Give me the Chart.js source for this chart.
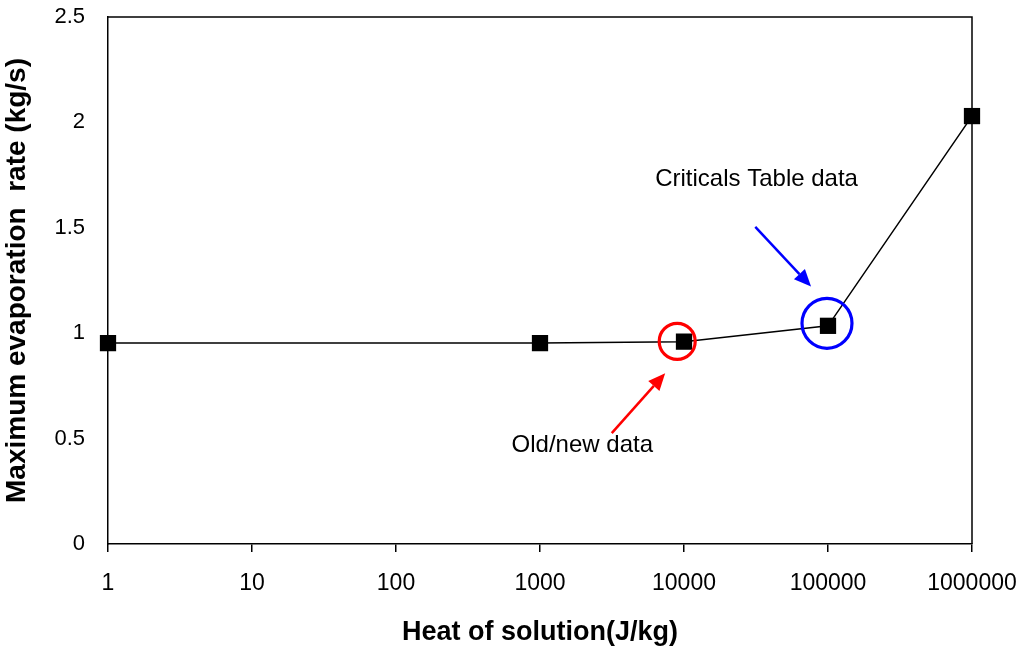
<!DOCTYPE html>
<html>
<head>
<meta charset="utf-8">
<script src="https://cdn.jsdelivr.net/npm/chart.js@4.4.1/dist/chart.umd.min.js"></script>
<style>
  body { margin: 0; background: #fff; }
  #wrap { width: 1025px; height: 650px; position: relative; }
</style>
</head>
<body>
<div id="wrap"><canvas id="chartLine"></canvas></div>
<script>
// heat of solution (J/kg) vs max evaporation rate (kg/s)
const heatValues = [1, 1000, 10000, 100000, 1000000];
const evapRates = [0.953, 0.953, 0.960, 1.035, 2.03];
const xTickValues = [1, 10, 100, 1000, 10000, 100000, 1000000];
const yTickValues = [0, 0.5, 1, 1.5, 2, 2.5];

// annotations, in data coordinates
const circleNotes = [
    { x: 8970, y: 0.961, r: 18, color: "#ff0000" },
    { x: 98400, y: 1.047, r: 25, color: "#0000ff" },
];
const arrowNotes = [
    { from: [3150, 0.526], to: [7400, 0.81], color: "#ff0000" },
    { from: [31260, 1.504], to: [76250, 1.221], color: "#0000ff" },
];
const textNotes = [
    { x: 635, y: 0.47, text: "Old/new data" },
    { x: 6310, y: 1.732, text: "Criticals Table data" },
];

const boxPlugin = {
    id: "box",
    beforeDatasetsDraw(chart) {
        const { ctx, chartArea: a } = chart;
        ctx.save();
        ctx.strokeStyle = "#000";
        ctx.lineWidth = 1.5;
        ctx.beginPath();
        ctx.moveTo(a.left, a.top);
        ctx.lineTo(a.right, a.top);
        ctx.lineTo(a.right, a.bottom);
        ctx.stroke();
        ctx.restore();
    },
};

const notesPlugin = {
    id: "notes",
    afterDatasetsDraw(chart) {
        const { ctx } = chart;
        const xs = chart.scales.x, ys = chart.scales.y;
        ctx.save();
        circleNotes.forEach((c) => {
            ctx.strokeStyle = c.color;
            ctx.lineWidth = 3.2;
            ctx.beginPath();
            ctx.arc(xs.getPixelForValue(c.x), ys.getPixelForValue(c.y), c.r, 0, Math.PI * 2);
            ctx.stroke();
        });
        arrowNotes.forEach((ar) => {
            const x1 = xs.getPixelForValue(ar.from[0]), y1 = ys.getPixelForValue(ar.from[1]);
            const x2 = xs.getPixelForValue(ar.to[0]), y2 = ys.getPixelForValue(ar.to[1]);
            const ang = Math.atan2(y2 - y1, x2 - x1);
            const len = 17, half = 7.5;
            const bx = x2 - len * Math.cos(ang), by = y2 - len * Math.sin(ang);
            ctx.strokeStyle = ar.color;
            ctx.fillStyle = ar.color;
            ctx.lineWidth = 2.5;
            ctx.beginPath();
            ctx.moveTo(x1, y1);
            ctx.lineTo(bx, by);
            ctx.stroke();
            ctx.beginPath();
            ctx.moveTo(x2, y2);
            ctx.lineTo(bx + half * Math.sin(ang), by - half * Math.cos(ang));
            ctx.lineTo(bx - half * Math.sin(ang), by + half * Math.cos(ang));
            ctx.closePath();
            ctx.fill();
        });
        ctx.fillStyle = "#000";
        ctx.font = "24px 'Liberation Sans', Arial, sans-serif";
        ctx.textBaseline = "middle";
        ctx.textAlign = "left";
        textNotes.forEach((t) => {
            ctx.fillText(t.text, xs.getPixelForValue(t.x), ys.getPixelForValue(t.y));
        });
        ctx.restore();
    },
};

const sans = "'Liberation Sans', Arial, sans-serif";

new Chart(document.getElementById("chartLine"), {
    type: "line",
    data: {
        datasets: [
            {
                data: heatValues.map((h, i) => ({ x: h, y: evapRates[i] })),
                borderColor: "#000",
                borderWidth: 1.5,
                pointStyle: "rect",
                pointRadius: 11.5,
                pointBackgroundColor: "#000",
                pointBorderColor: "#000",
                pointBorderWidth: 0,
                tension: 0,
                clip: false,
            },
        ],
    },
    options: {
        responsive: true,
        maintainAspectRatio: false,
        animation: false,
        layout: { padding: { top: 17, right: 53, left: 0, bottom: 0 } },
        plugins: {
            legend: { display: false },
            tooltip: { enabled: false },
        },
        scales: {
            x: {
                type: "logarithmic",
                min: 1,
                max: 1000000,
                afterBuildTicks: (scale) => {
                    scale.ticks = xTickValues.map((v) => ({ value: v }));
                },
                afterFit: (scale) => {
                    scale.height = 106;
                    scale.paddingLeft = 0;
                    scale.paddingRight = 0;
                },
                ticks: {
                    autoSkip: false,
                    maxRotation: 0,
                    padding: 18,
                    color: "#000",
                    font: { size: 23, family: sans },
                    callback: (v) => String(v),
                },
                grid: {
                    display: true,
                    drawOnChartArea: false,
                    drawTicks: true,
                    tickLength: 8,
                    color: "#000",
                    lineWidth: 1.5,
                },
                border: { display: true, color: "#000", width: 1.5 },
                title: {
                    display: true,
                    text: "Heat of solution(J/kg)",
                    color: "#000",
                    font: { size: 27, weight: "bold", family: sans },
                    padding: { top: 0, bottom: 1 },
                },
            },
            y: {
                min: 0,
                max: 2.5,
                afterBuildTicks: (scale) => {
                    scale.ticks = yTickValues.map((v) => ({ value: v }));
                },
                afterFit: (scale) => {
                    scale.width = 108;
                    scale.paddingTop = 0;
                    scale.paddingBottom = 0;
                },
                ticks: {
                    padding: 23,
                    color: "#000",
                    font: { size: 22, family: sans },
                    callback: (v) => String(v),
                },
                grid: { display: false, drawTicks: false },
                border: { display: true, color: "#000", width: 1.5 },
                title: {
                    display: true,
                    text: "Maximum evaporation  rate (kg/s)",
                    color: "#000",
                    font: { size: 28, weight: "bold", family: sans },
                    padding: { top: 0, bottom: 7 },
                },
            },
        },
    },
    plugins: [boxPlugin, notesPlugin],
});
</script>
</body>
</html>
